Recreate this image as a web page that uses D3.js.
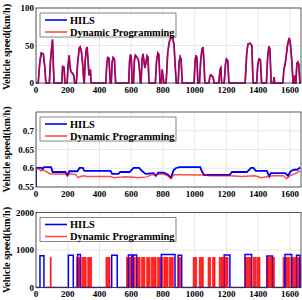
<!DOCTYPE html>
<html><head><meta charset="utf-8">
<script src="https://cdn.jsdelivr.net/npm/d3@7"></script>
<style>body{margin:0;background:#fff}svg{display:block}</style>
</head><body><svg id="c" width="302" height="300"></svg>
<script>
// ---- data ----
const xTicks = [0,200,400,600,800,1000,1200,1400,1600];
const legendLabels = ["HILS","Dynamic Programming"];
const yLabel = "Vehicle speed(km/h)";
// panel 1: vehicle speed (HILS and DP overlap)
const speedT = [0,14,24,33,46,56,62,84,92,100,104,110,114,162,168,177,182,196,202,209,214,220,230,238,244,254,262,272,278,286,296,302,304,310,318,322,328,334,338,343,348,440,446,452,460,468,474,480,486,494,502,584,590,595,600,606,614,620,626,634,640,646,652,658,662,668,674,680,686,692,700,706,712,752,760,768,774,782,790,795,800,806,820,830,840,850,862,870,878,884,896,902,908,914,922,996,1002,1008,1014,1020,1030,1038,1046,1052,1058,1064,1090,1096,1102,1110,1116,1122,1152,1160,1165,1170,1186,1194,1200,1208,1216,1318,1328,1336,1350,1360,1368,1390,1398,1405,1414,1422,1452,1460,1468,1474,1482,1496,1500,1504,1556,1562,1570,1585,1595,1602,1612,1620,1626,1630,1634,1638,1644,1650,1656,1663,1670];
const speedHILS = [0,0,28,40,39,20,0,0,32,50,58,20,0,0,22,21,0,0,22,37,22,15,13,10,0,0,25,46,48,42,20,0,0,30,46,48,30,10,17,17,0,0,25,34,33,0,0,28,34,32,0,0,30,37,36,0,0,30,37,35,33,30,18,0,0,30,39,30,20,26,36,34,0,0,30,40,38,0,0,18,10,0,0,40,55,60,60,50,20,0,0,28,35,32,0,0,28,37,33,0,0,30,45,48,30,0,0,9,11,9,8,0,0,18,20,0,0,25,32,30,0,0,40,52,53,50,0,0,25,32,31,0,0,35,49,45,0,0,8,0,0,18,25,50,60,55,30,0,0,10,0,0,26,28,25,0,0];
const speedDP = speedHILS.slice();
// panel 2
const socHILS_T = [0,0,35,42,50,95,105,185,198,210,260,275,295,305,470,480,520,530,590,615,650,670,690,740,755,770,805,830,850,868,880,905,1035,1045,1060,1220,1235,1330,1355,1370,1385,1455,1470,1480,1570,1588,1605,1625,1645,1665];
const socHILS_V = [0.55,0.601,0.601,0.597,0.603,0.603,0.59,0.59,0.581,0.592,0.592,0.601,0.601,0.593,0.593,0.585,0.585,0.59,0.59,0.601,0.601,0.592,0.585,0.587,0.58,0.588,0.588,0.583,0.575,0.595,0.6,0.603,0.603,0.592,0.582,0.582,0.59,0.59,0.601,0.601,0.593,0.593,0.578,0.587,0.587,0.58,0.592,0.596,0.596,0.602];
const socDP_T = [0,20,30,40,55,70,90,185,198,215,250,265,280,300,320,470,490,560,620,640,700,720,760,800,830,850,870,900,1050,1100,1220,1300,1380,1420,1460,1500,1560,1580,1600,1630,1665];
const socDP_V = [0.6,0.598,0.593,0.596,0.593,0.59,0.585,0.585,0.58,0.585,0.583,0.575,0.578,0.58,0.578,0.578,0.575,0.577,0.576,0.575,0.577,0.582,0.583,0.585,0.58,0.572,0.583,0.583,0.582,0.58,0.58,0.578,0.58,0.575,0.578,0.58,0.58,0.572,0.58,0.585,0.593];
// panel 3: on-intervals [start, end, level]
const engHILS = [[25,50,850],[204,235,860],[262,280,880],[477,512,860],[582,603,870],[613,634,870],[790,876,880],[896,918,860],[1186,1222,870],[1317,1359,880],[1455,1491,840],[1569,1611,880],[1642,1663,860]];
const engDP = [[90,95,800],[256,284,800],[292,316,800],[326,350,800],[441,466,800],[571,597,800],[606,622,800],[630,656,800],[666,686,800],[698,718,800],[727,757,800],[767,797,800],[806,831,800],[840,865,800],[896,910,800],[991,1012,800],[1029,1054,800],[1085,1100,800],[1113,1128,800],[1155,1180,800],[1186,1210,800],[1317,1356,800],[1369,1388,800],[1396,1411,800],[1453,1488,800],[1496,1502,800],[1558,1597,800],[1606,1637,800],[1646,1673,800]];

const panels = [
  {top:8, domain:[0,100], ticks:[0,50,100], fmt:d=>d},
  {top:112, domain:[0.55,0.75], ticks:[0.55,0.6,0.65,0.7], fmt:d=>String(d)},
  {top:212.5, domain:[0,2000], ticks:[0,1000,2000], fmt:d=>d}
];
const H = 75, L = 36, R = 301;
const svg = d3.select("#c");
const x = d3.scaleLinear().domain([0,1670]).range([L,R]);
const font = "'Liberation Serif','Times New Roman',serif";
const BLUE = "#0000ff", RED = "rgba(255,0,0,0.7)";

function pulsesToPts(arr){
  const pts=[[0,0]];
  arr.forEach(([s,e,v])=>{pts.push([s,0],[s,v],[e,v],[e,0]);});
  pts.push([1670,0]);
  return pts;
}

panels.forEach((p,i)=>{
  const y = d3.scaleLinear().domain(p.domain).range([p.top+H,p.top]);
  const g = svg.append("g");
  // grid
  g.selectAll(".gx").data(xTicks).join("line")
    .attr("x1",d=>x(d)).attr("x2",d=>x(d)).attr("y1",p.top).attr("y2",p.top+H)
    .attr("stroke","#dcdcdc").attr("stroke-width",0.7);
  g.selectAll(".gy").data(p.ticks).join("line")
    .attr("x1",L).attr("x2",R).attr("y1",d=>y(d)).attr("y2",d=>y(d))
    .attr("stroke","#dcdcdc").attr("stroke-width",0.7);
  const clip = "clip"+i;
  svg.append("clipPath").attr("id",clip).append("rect").attr("x",L).attr("y",p.top-1).attr("width",R-L).attr("height",H+2);
  const dg = g.append("g").attr("clip-path",`url(#${clip})`);
  const line = d3.line().x(d=>x(d[0])).y(d=>y(d[1]));
  if(i===0){
    dg.append("path").datum(speedT.map((t,k)=>[t,speedHILS[k]])).attr("d",line)
      .attr("fill","none").attr("stroke",BLUE).attr("stroke-width",1.6);
    dg.append("path").datum(speedT.map((t,k)=>[t,speedDP[k]])).attr("d",line)
      .attr("fill","none").attr("stroke",RED).attr("stroke-width",1.6);
  } else if(i===1){
    dg.append("path").datum(socHILS_T.map((t,k)=>[t,socHILS_V[k]])).attr("d",line)
      .attr("fill","none").attr("stroke",BLUE).attr("stroke-width",1.8);
    dg.append("path").datum(socDP_T.map((t,k)=>[t,socDP_V[k]])).attr("d",line)
      .attr("fill","none").attr("stroke",RED).attr("stroke-width",1.5);
  } else {
    const area = d3.area().x(d=>x(d[0])).y0(y(0)).y1(d=>y(d[1]));
    const dp = pulsesToPts(engDP);
    dg.append("path").datum(dp).attr("d",area).attr("fill","rgba(255,0,0,0.85)").attr("stroke","none");
    dg.append("path").datum(pulsesToPts(engHILS)).attr("d",line)
      .attr("fill","none").attr("stroke",BLUE).attr("stroke-width",1.5);
    dg.append("path").datum(dp).attr("d",line).attr("fill","none").attr("stroke",RED).attr("stroke-width",1.1);
  }
  // frame
  g.append("rect").attr("x",L).attr("y",p.top).attr("width",R-L).attr("height",H)
    .attr("fill","none").attr("stroke","#333").attr("stroke-width",0.8);
  // tick labels
  g.selectAll(".yl").data(p.ticks).join("text")
    .attr("x",L-2).attr("y",d=>y(d)).attr("dy","0.35em").attr("text-anchor","end")
    .attr("font-family",font).attr("font-weight","bold").attr("font-size",9).text(p.fmt);
  g.selectAll(".xl").data(xTicks).join("text")
    .attr("x",d=>x(d)).attr("y",p.top+H+9.5).attr("text-anchor","middle")
    .attr("font-family",font).attr("font-weight","bold").attr("font-size",9).text(d=>d);
  // y label
  g.append("text").attr("transform",`translate(10,${Math.max(p.top+H/2,47)}) rotate(-90)`)
    .attr("text-anchor","middle").attr("font-family",font).attr("font-weight","bold")
    .attr("font-size",10).text(yLabel);
  // legend
  const lg = g.append("g").attr("transform",`translate(40,${p.top+5})`);
  lg.append("rect").attr("width",136).attr("height",24).attr("fill","#fff").attr("stroke","#555").attr("stroke-width",0.7);
  legendLabels.forEach((lab,k)=>{
    const yy = 7 + k*12;
    lg.append("line").attr("x1",5).attr("x2",27).attr("y1",yy).attr("y2",yy)
      .attr("stroke",k===0?BLUE:RED).attr("stroke-width",1.6);
    lg.append("text").attr("x",30).attr("y",yy).attr("dy","0.35em")
      .attr("font-family",font).attr("font-weight","bold").attr("font-size",10.4).text(lab);
  });
});
</script></body></html>
